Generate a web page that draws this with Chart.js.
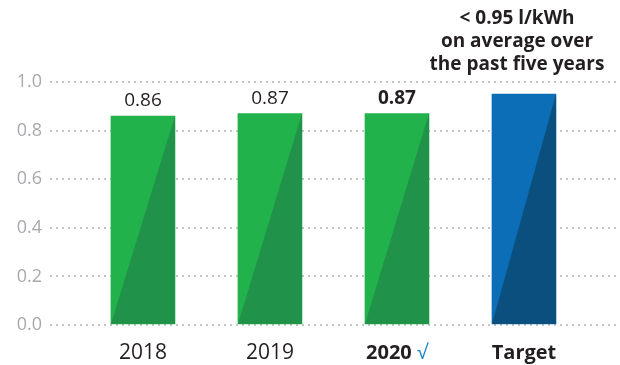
<!DOCTYPE html>
<html>
<head>
<meta charset="utf-8">
<script src="https://cdn.jsdelivr.net/npm/chart.js@4"></script>
<style>
  html, body { margin: 0; padding: 0; background: #fff; }
  #wrap { width: 620px; height: 365px; }
</style>
</head>
<body>
<div id="wrap"><canvas id="myChart"></canvas></div>
<script>
// data
const categories = ['2018', '2019', '2020', 'Target']
const values = [0.86, 0.87, 0.87, 0.95]
const valueLabels = ['0.86', '0.87', '0.87', '']
const boldLabel = [false, false, true, false]
const targetNote = ['< 0.95 l/kWh', 'on average over', 'the past five years']
const yTicks = [0, 0.2, 0.4, 0.6, 0.8, 1.0]

const light = ['#22b24c', '#22b24c', '#22b24c', '#0b6eb6']
const dark = ['#21924a', '#21924a', '#21924a', '#0a4f7d']
const textColor = '#231f20'
const FONT = '"Open Sans", "Noto Sans", sans-serif'

// triangles, value labels, x labels
const decor = {
    id: 'decor',
    afterDatasetsDraw(chart) {
        const c = chart.ctx
        const meta = chart.getDatasetMeta(0)
        meta.data.forEach((bar, i) => {
            const half = bar.width / 2
            const l = bar.x - half, r = bar.x + half
            c.save()
            c.fillStyle = dark[i]
            c.beginPath()
            c.moveTo(l, bar.base)
            c.lineTo(r, bar.y)
            c.lineTo(r, bar.base)
            c.closePath()
            c.fill()

            c.textAlign = 'center'
            c.textBaseline = 'middle'
            c.fillStyle = textColor
            if (valueLabels[i]) {
                c.font = (boldLabel[i] ? 'bold ' : '') + '19px ' + FONT
                c.fillText(valueLabels[i], bar.x, bar.y - 15)
            }

            // x labels
            const y = chart.chartArea.bottom + 28
            const last = i === categories.length - 1
            if (boldLabel[i]) {
                c.font = 'bold 20px ' + FONT
                const w1 = c.measureText(categories[i] + ' ').width
                c.font = '20px ' + FONT
                const w2 = c.measureText('\u221A').width
                const start = bar.x - (w1 + w2) / 2
                c.textAlign = 'left'
                c.font = 'bold 20px ' + FONT
                c.fillText(categories[i], start, y)
                c.fillStyle = '#1b84c8'
                c.font = '20px ' + FONT
                c.fillText('\u221A', start + w1, y)
            } else {
                c.font = last ? 'bold 20px ' + FONT : '21px ' + FONT
                c.fillText(categories[i], bar.x, y)
            }

            if (last) {
                c.fillStyle = textColor
                c.textAlign = 'center'
                c.font = 'bold 19px ' + FONT
                targetNote.forEach((t, k) => c.fillText(t, bar.x - 7, 19 + k * 23))
            }
            c.restore()
        })
    }
}

const ctx = document.getElementById('myChart').getContext('2d')
const chart = new Chart(ctx, {
    type: 'bar',
    data: {
        datasets: [{
            data: values.map((v, i) => ({ x: i, y: v })),
            backgroundColor: light,
            borderWidth: 0,
            barThickness: 64
        }]
    },
    options: {
        responsive: true,
        maintainAspectRatio: false,
        animation: false,
        layout: { padding: { top: 82, bottom: 40, left: 0, right: 0 } },
        plugins: { legend: { display: false }, tooltip: { enabled: false } },
        scales: {
            x: {
                type: 'linear',
                offset: false,
                min: -0.732,
                max: 3.756,
                display: false
            },
            y: {
                min: 0,
                max: 1,
                afterFit(scale) { scale.width = 50 },
                afterBuildTicks(scale) { scale.ticks = yTicks.map(v => ({ value: v })) },
                border: { display: false, dash: [2, 4] },
                grid: {
                    color: '#c4c4c4',
                    lineWidth: 2,
                    drawTicks: false
                },
                ticks: {
                    padding: 8,
                    color: '#a7a9ac',
                    font: { size: 18, family: FONT },
                    callback: v => v.toFixed(1)
                }
            }
        }
    },
    plugins: [decor]
})
</script>
</body>
</html>
